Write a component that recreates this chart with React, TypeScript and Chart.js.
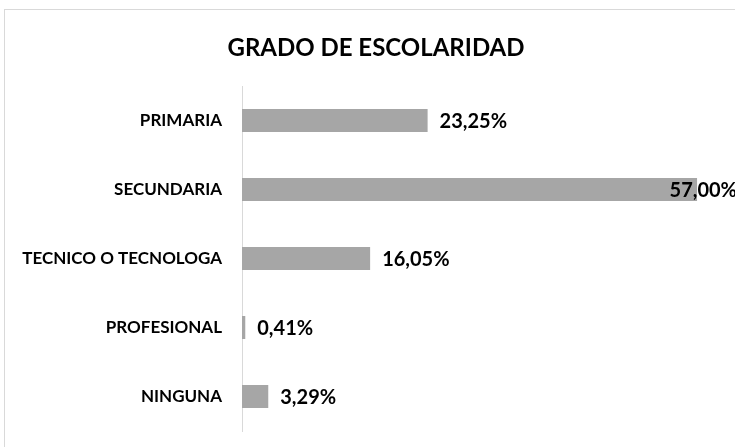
import React, { useEffect, useRef } from "react";
import { Chart, registerables } from "chart.js";

Chart.register(...registerables);

const chartTitle = "GRADO DE ESCOLARIDAD";
const categories = ["PRIMARIA", "SECUNDARIA", "TECNICO O TECNOLOGA", "PROFESIONAL", "NINGUNA"];
const percentages = [23.25, 57.0, 16.05, 0.41, 3.29];

const FONT = "Lato, 'Open Sans', sans-serif";

const framePlugin = {
  id: "frame",
  beforeDraw(chart: any) {
    const ctx = chart.ctx;
    ctx.save();
    ctx.fillStyle = "#ffffff";
    ctx.fillRect(0, 0, chart.width, chart.height);
    ctx.strokeStyle = "#d9d9d9";
    ctx.lineWidth = 1;
    ctx.strokeRect(4.5, 9.5, chart.width + 20, chart.height + 20);
    ctx.restore();
  },
};

const titlePlugin = {
  id: "customTitle",
  afterDraw(chart: any) {
    const ctx = chart.ctx;
    ctx.save();
    ctx.font = `bold 24px ${FONT}`;
    ctx.fillStyle = "#000000";
    ctx.textAlign = "center";
    ctx.textBaseline = "middle";
    ctx.fillText(chartTitle, 376, 48);
    ctx.restore();
  },
};

const valueLabelPlugin = {
  id: "valueLabels",
  afterDatasetsDraw(chart: any) {
    const ctx = chart.ctx;
    const meta = chart.getDatasetMeta(0);
    ctx.save();
    ctx.font = `bold 20px ${FONT}`;
    ctx.fillStyle = "#000000";
    ctx.textAlign = "left";
    ctx.textBaseline = "middle";
    meta.data.forEach((bar: any, i: number) => {
      const text = percentages[i].toFixed(2).replace(".", ",") + "%";
      const w = ctx.measureText(text).width;
      let x = bar.x + 12;
      if (x + w > chart.width + 2) x = chart.width + 2 - w;
      ctx.fillText(text, x, bar.y + 1);
    });
    ctx.restore();
  },
};

export default function App() {
  const canvasRef = useRef<HTMLCanvasElement | null>(null);

  useEffect(() => {
    if (!canvasRef.current) return;
    const chart = new Chart(canvasRef.current, {
      type: "bar",
      data: {
        labels: categories,
        datasets: [
          {
            data: percentages,
            backgroundColor: "#a6a6a6",
            borderWidth: 0,
            barPercentage: 0.333,
            categoryPercentage: 1,
          },
        ],
      },
      options: {
        indexAxis: "y",
        animation: false,
        responsive: false,
        maintainAspectRatio: false,
        layout: { padding: { top: 86, bottom: 16, left: 0, right: 14 } },
        plugins: {
          legend: { display: false },
          title: { display: false },
          tooltip: { enabled: false },
        },
        scales: {
          x: {
            display: false,
            min: 0,
            max: 60,
          },
          y: {
            afterFit(scale: any) {
              scale.width = 242;
              scale.paddingTop = 0;
              scale.paddingBottom = 0;
            },
            grid: { display: false, drawTicks: false },
            border: { display: true, color: "#d9d9d9", width: 1 },
            ticks: {
              padding: 20,
              color: "#000000",
              font: { family: FONT, size: 17, weight: "bold" },
            },
          },
        },
      },
      plugins: [framePlugin, titlePlugin, valueLabelPlugin],
    });
    return () => chart.destroy();
  }, []);

  return (
    <div style={{ position: "absolute", left: 0, top: 0, width: 735, height: 447, overflow: "hidden" }}>
      <canvas ref={canvasRef} width={735} height={447} style={{ display: "block" }} />
    </div>
  );
}
